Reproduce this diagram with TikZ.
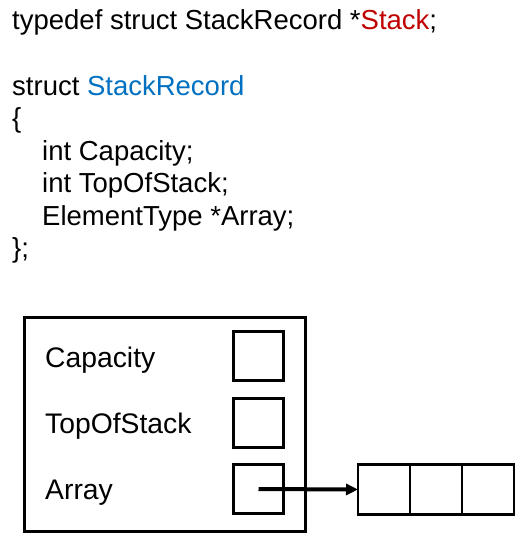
\documentclass[tikz,border=0pt]{standalone}
\usepackage{fontspec}
\setmainfont{Liberation Sans}
\usetikzlibrary{arrows.meta,positioning}
\definecolor{typered}{HTML}{C00000}
\definecolor{recblue}{HTML}{0070C0}

\begin{document}
\begin{tikzpicture}[
  x=1pt,y=-1pt,
  code/.style={anchor=base west,inner sep=0pt,font=\fontsize{27.5}{33}\selectfont},
  field/.style={anchor=base west,inner sep=0pt,font=\fontsize{28.3}{33}\selectfont},
  slot/.style={draw,line width=2.3pt,minimum width=50pt,minimum height=49pt,inner sep=0pt},
  cell/.style={draw,line width=2.3pt,minimum width=52pt,minimum height=50pt,inner sep=0pt,outer sep=0pt},
  ptr/.style={-{Triangle[length=12pt,width=11pt]},line width=4pt}]
\useasboundingbox (0,0) rectangle (526,551);
% declaration
\node[code] (l1) at (12,30) {typedef struct StackRecord *\textcolor{typered}{Stack};};
\node[code] (l2) at (12,95) {struct \textcolor{recblue}{StackRecord}};
\node[code] (l3) at (12,127.5) {\{};
\node[code] (l4) at (42,160) {int Capacity;};
\node[code] (l5) at (42,192.5) {int TopOfStack;};
\node[code] (l6) at (42,225) {ElementType *Array;};
\node[code] (l7) at (12,257.5) {\};};
% record
\draw[line width=3pt] (24,317) rectangle (305,531);
\node[field] (cap) at (45,367) {Capacity};
\node[field] (top) at (45,433) {TopOfStack};
\node[field] (arr) at (45,499) {Array};
\node[slot] (capbox) at (258.5,356) {};
\node[slot] (topbox) at (258.5,423) {};
\node[slot] (arrbox) at (258.5,489) {};
% array cells
\node[cell] (c1) at (384,489.5) {};
\node[cell,right=0pt of c1] (c2) {};
\node[cell,right=0pt of c2] (c3) {};
\draw[ptr] (arrbox.center) -- (c1.west);
\end{tikzpicture}
\end{document}
